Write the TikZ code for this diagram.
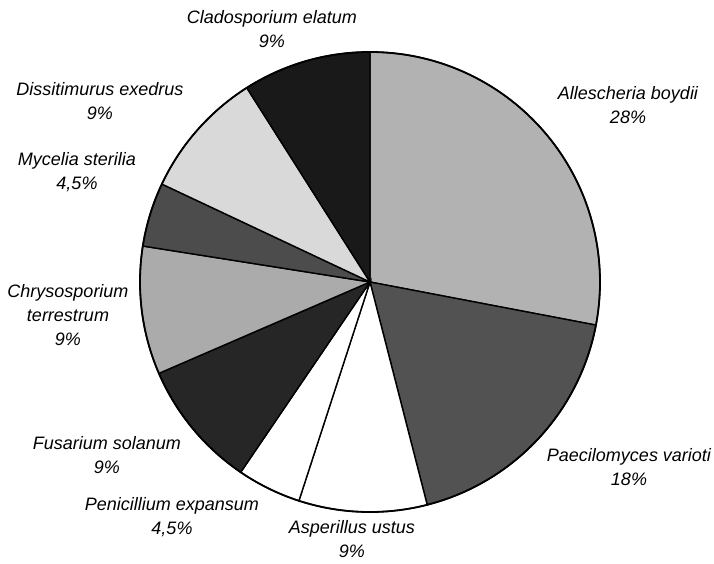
\documentclass[tikz,border=0pt]{standalone}
\usepackage{fontspec}
\setmainfont{Liberation Sans}
\begin{document}
\begin{tikzpicture}[x=1pt,y=1pt,line width=1.4pt,
    lbl/.style={font=\itshape\fontsize{18}{24}\selectfont,align=center}]
\useasboundingbox[fill=white] (-370,-281) rectangle (344,282);
\filldraw[fill=black!30] (0,0) -- (90:230) arc[start angle=90,end angle=-10.8,radius=230] -- cycle; % Allescheria
\filldraw[fill=black!68] (0,0) -- (-10.8:230) arc[start angle=-10.8,end angle=-75.6,radius=230] -- cycle; % Paecilomyces
\filldraw[fill=white] (0,0) -- (-75.6:230) arc[start angle=-75.6,end angle=-108,radius=230] -- cycle; % Asperillus
\filldraw[fill=white] (0,0) -- (-108:230) arc[start angle=-108,end angle=-124.2,radius=230] -- cycle; % Penicillium
\filldraw[fill=black!85] (0,0) -- (-124.2:230) arc[start angle=-124.2,end angle=-156.6,radius=230] -- cycle; % Fusarium
\filldraw[fill=black!33] (0,0) -- (-156.6:230) arc[start angle=-156.6,end angle=-189,radius=230] -- cycle; % Chrysosporium
\filldraw[fill=black!70] (0,0) -- (-189:230) arc[start angle=-189,end angle=-205.2,radius=230] -- cycle; % Mycelia
\filldraw[fill=black!15] (0,0) -- (-205.2:230) arc[start angle=-205.2,end angle=-237.6,radius=230] -- cycle; % Dissitimurus
\filldraw[fill=black!90] (0,0) -- (-237.6:230) arc[start angle=-237.6,end angle=-270,radius=230] -- cycle; % Cladosporium
\draw[line width=1.8pt] (0,0) circle (230);
\node[lbl] (allescheria) at (258,176.5) {Allescheria boydii\\28\%};
\node[lbl] (paecilomyces) at (259,-185.5) {Paecilomyces varioti\\18\%};
\node[lbl] (asperillus) at (-18,-257.5) {Asperillus ustus\\9\%};
\node[lbl] (penicillium) at (-198,-235.5) {Penicillium expansum\\4,5\%};
\node[lbl] (fusarium) at (-263,-173) {Fusarium solanum\\9\%};
\node[lbl] (chrysosporium) at (-302,-33) {Chrysosporium\\terrestrum\\9\%};
\node[lbl] (mycelia) at (-293,109.5) {Mycelia sterilia\\4,5\%};
\node[lbl] (dissitimurus) at (-270,180.5) {Dissitimurus exedrus\\9\%};
\node[lbl] (cladosporium) at (-98,252.5) {Cladosporium elatum\\9\%};
\end{tikzpicture}
\end{document}
